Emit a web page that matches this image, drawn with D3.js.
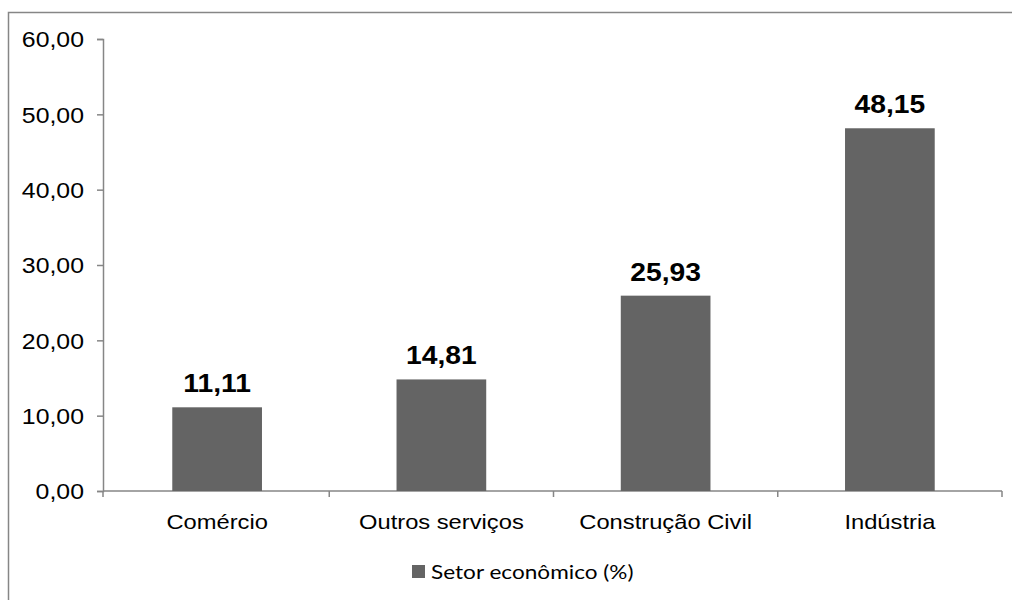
<!DOCTYPE html>
<html>
<head>
<meta charset="utf-8">
<script src="https://cdn.jsdelivr.net/npm/d3@7"></script>
<style>
  body { margin: 0; background: #fff; }
  svg { display: block; }
  .num { font-family: "Liberation Sans", Arial, sans-serif; }
</style>
</head>
<body>
<div id="chart"></div>
<script>
var categories = ["Comércio", "Outros serviços", "Construção Civil", "Indústria"];
var values = [11.11, 14.81, 25.93, 48.15];
var yTicks = [0, 10, 20, 30, 40, 50, 60];
var seriesName = "Setor econômico (%)";

var W = 1012, H = 600,
	plotLeft = 103, plotRight = 1002, plotTop = 39, plotBottom = 491,
	sx = 1.13,
	barColor = "#646464",
	lineColor = "#868686";

var fmt = function(d) { return d.toFixed(2).replace(".", ","); };

var svg = d3.select("#chart").append("svg")
	.attr("width", W)
	.attr("height", H);

// outer frame (runs off the right and bottom edge)
svg.append("rect")
	.attr("x", 8.5).attr("y", 12.5)
	.attr("width", W + 20).attr("height", H + 20)
	.attr("fill", "none")
	.attr("stroke", lineColor)
	.attr("stroke-width", 1.5);

var x = d3.scaleBand()
	.domain(categories)
	.range([plotLeft + 2, plotRight])
	.paddingInner(0.6)
	.paddingOuter(0.3);

var y = d3.scaleLinear()
	.domain([0, 60])
	.range([plotBottom, plotTop]);

// y axis
var yAxis = svg.append("g")
	.attr("transform", "translate(" + plotLeft + ",0)")
	.call(d3.axisLeft(y).tickValues(yTicks).tickFormat(fmt).tickSize(6).tickPadding(13));
yAxis.select(".domain").attr("stroke", lineColor).attr("stroke-width", 1.5);
yAxis.selectAll(".tick line").attr("stroke", lineColor).attr("stroke-width", 1.5);
yAxis.selectAll(".tick text")
	.attr("class", "num")
	.attr("fill", "#000")
	.style("font-size", "22px")
	.attr("dy", "0.35em")
	.attr("transform", function() {
		var tx = +d3.select(this).attr("x");
		return "translate(" + tx + ",0) scale(" + sx + ",1) translate(" + (-tx) + ",0)";
	});

// x axis baseline with boundary ticks
var step = x.step();
var bounds = d3.range(categories.length + 1).map(function(i) {
	return i === 0 ? plotLeft : x(categories[0]) + x.bandwidth() / 2 - step / 2 + i * step;
});
svg.append("line")
	.attr("x1", plotLeft).attr("x2", plotRight)
	.attr("y1", plotBottom).attr("y2", plotBottom)
	.attr("stroke", lineColor).attr("stroke-width", 1.5);
svg.selectAll("line.xtick").data(bounds).enter().append("line")
	.attr("class", "xtick")
	.attr("x1", function(d) { return d; }).attr("x2", function(d) { return d; })
	.attr("y1", plotBottom).attr("y2", plotBottom + 6)
	.attr("stroke", lineColor).attr("stroke-width", 1.5);

// category labels
svg.selectAll("text.cat").data(categories).enter().append("text")
	.attr("class", "cat num")
	.attr("text-anchor", "middle")
	.style("font-size", "21px")
	.attr("transform", function(d) {
		return "translate(" + (x(d) + x.bandwidth() / 2) + "," + (plotBottom + 38) + ") scale(" + sx + ",1)";
	})
	.text(function(d) { return d; });

// bars
svg.selectAll("rect.bar").data(values).enter().append("rect")
	.attr("class", "bar")
	.attr("x", function(d, i) { return x(categories[i]); })
	.attr("width", x.bandwidth())
	.attr("y", function(d) { return y(d); })
	.attr("height", function(d) { return plotBottom - y(d); })
	.attr("fill", barColor);

// value labels
svg.selectAll("text.val").data(values).enter().append("text")
	.attr("class", "val num")
	.attr("text-anchor", "middle")
	.style("font-size", "25px")
	.style("font-weight", "bold")
	.attr("transform", function(d, i) {
		return "translate(" + (x(categories[i]) + x.bandwidth() / 2) + "," + (y(d) - 15) + ") scale(" + sx + ",1)";
	})
	.text(fmt);

// legend
var legend = svg.append("g").attr("transform", "translate(412,565)");
legend.append("rect")
	.attr("width", 13).attr("height", 13)
	.attr("fill", barColor);
legend.append("text")
	.attr("transform", "translate(19,6.5) scale(" + sx + ",1)")
	.attr("dy", "0.35em")
	.style("font-family", "Lato, 'Open Sans', sans-serif")
	.style("font-size", "20px")
	.text(seriesName);
</script>
</body>
</html>
